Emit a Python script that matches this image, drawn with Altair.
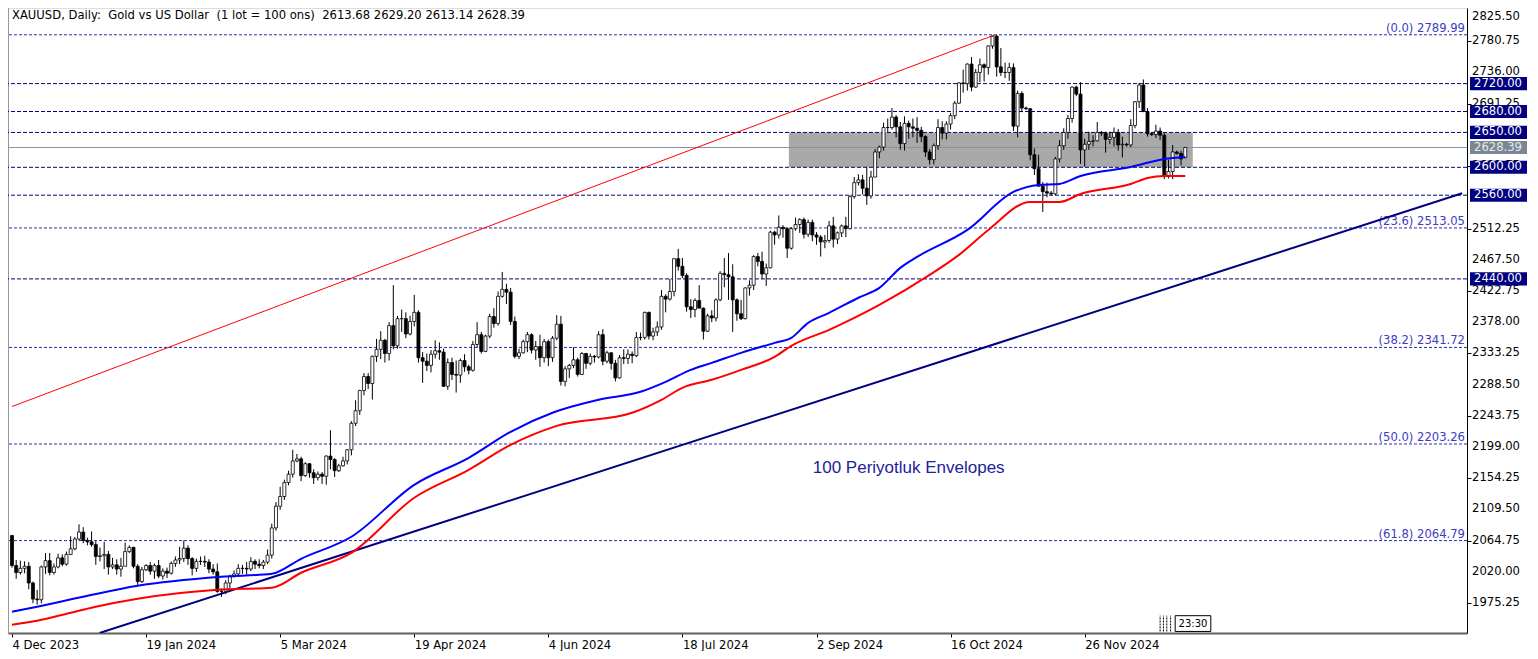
import altair as alt
import pandas as pd

# ---------------- data ----------------
opens = [
    2072, 2029, 2019, 2025, 2028, 2004, 1981, 1980, 2027, 2036,
    2019, 2027, 2040, 2031, 2045, 2053, 2067, 2077, 2065, 2063,
    2059, 2042, 2043, 2045, 2027, 2030, 2024, 2028, 2049, 2055,
    2028, 2006, 2023, 2029, 2021, 2029, 2014, 2021, 2018, 2032,
    2037, 2039, 2054, 2039, 2025, 2035, 2035, 2034, 2024, 2020,
    1992, 1992, 2004, 2013, 2017, 2025, 2025, 2024, 2035, 2031,
    2029, 2034, 2044, 2083, 2114, 2128, 2148, 2160, 2179, 2182,
    2158, 2175, 2162, 2155, 2160, 2157, 2186, 2181, 2165, 2172,
    2179, 2195, 2233, 2251, 2280, 2300, 2290, 2329, 2339, 2352,
    2333, 2373, 2344, 2383, 2383, 2361, 2379, 2392, 2327, 2322,
    2316, 2332, 2337, 2335, 2286, 2320, 2303, 2302, 2323, 2314,
    2309, 2346, 2360, 2336, 2358, 2386, 2376, 2415, 2425, 2421,
    2379, 2329, 2334, 2350, 2360, 2338, 2343, 2327, 2350, 2327,
    2355, 2375, 2293, 2311, 2316, 2324, 2303, 2333, 2319, 2329,
    2328, 2360, 2322, 2334, 2319, 2298, 2327, 2326, 2332, 2330,
    2356, 2356, 2392, 2358, 2364, 2371, 2415, 2411, 2422, 2469,
    2458, 2445, 2400, 2396, 2409, 2398, 2365, 2387, 2384, 2410,
    2448, 2446, 2443, 2410, 2390, 2383, 2427, 2431, 2472, 2465,
    2447, 2456, 2507, 2503, 2514, 2512, 2484, 2512, 2518, 2525,
    2504, 2521, 2503, 2500, 2493, 2495, 2516, 2497, 2506, 2516,
    2512, 2558, 2578, 2582, 2570, 2559, 2586, 2622, 2629, 2657,
    2657, 2672, 2658, 2634, 2663, 2658, 2656, 2653, 2644, 2622,
    2611, 2631, 2657, 2649, 2662, 2674, 2692, 2721, 2720, 2748,
    2715, 2736, 2747, 2743, 2774, 2788, 2744, 2736, 2736, 2743,
    2659, 2706, 2685, 2684, 2618, 2598, 2573, 2565, 2563, 2562,
    2612, 2631, 2650, 2670, 2715, 2705, 2625, 2633, 2637, 2638,
    2650, 2649, 2640, 2643, 2650, 2632, 2633, 2632, 2660, 2694,
    2718, 2680, 2648, 2647, 2652, 2646, 2587, 2594, 2622, 2620,
    2613.68,
]
highs = [
    2073, 2037, 2036, 2035, 2034, 2006, 1994, 2029, 2047, 2047,
    2032, 2046, 2045, 2049, 2071, 2070, 2088, 2084, 2069, 2078,
    2064, 2055, 2063, 2050, 2040, 2038, 2040, 2062, 2058, 2056,
    2031, 2027, 2031, 2034, 2032, 2037, 2025, 2026, 2035, 2042,
    2056, 2065, 2058, 2041, 2039, 2042, 2043, 2038, 2031, 2032,
    1996, 2008, 2016, 2022, 2031, 2030, 2034, 2041, 2038, 2038,
    2037, 2052, 2089, 2120, 2142, 2152, 2165, 2195, 2189, 2185,
    2177, 2176, 2167, 2164, 2163, 2187, 2223, 2183, 2175, 2185,
    2196, 2236, 2266, 2281, 2305, 2305, 2330, 2354, 2365, 2354,
    2378, 2431, 2387, 2396, 2392, 2387, 2417, 2395, 2335, 2333,
    2338, 2352, 2349, 2340, 2326, 2327, 2323, 2326, 2332, 2317,
    2351, 2378, 2364, 2360, 2390, 2398, 2422, 2450, 2433, 2427,
    2386, 2340, 2353, 2364, 2362, 2351, 2360, 2354, 2353, 2358,
    2388, 2387, 2315, 2318, 2342, 2327, 2335, 2334, 2333, 2331,
    2365, 2368, 2337, 2335, 2324, 2331, 2339, 2339, 2336, 2364,
    2363, 2393, 2393, 2370, 2379, 2424, 2418, 2440, 2469, 2483,
    2470, 2448, 2411, 2412, 2431, 2399, 2390, 2395, 2412, 2451,
    2470, 2477, 2461, 2412, 2410, 2428, 2438, 2474, 2477, 2479,
    2462, 2509, 2509, 2531, 2517, 2514, 2514, 2528, 2527, 2528,
    2525, 2525, 2507, 2503, 2503, 2523, 2529, 2508, 2518, 2529,
    2560, 2586, 2590, 2589, 2600, 2595, 2626, 2631, 2664, 2670,
    2685, 2675, 2665, 2673, 2667, 2670, 2672, 2658, 2646, 2626,
    2634, 2669, 2666, 2666, 2678, 2695, 2722, 2740, 2749, 2758,
    2741, 2756, 2749, 2775, 2787, 2789.99, 2771, 2750, 2750, 2749,
    2710, 2709, 2687, 2685, 2627, 2618, 2579, 2578, 2566, 2615,
    2639, 2656, 2675, 2716, 2717, 2722, 2641, 2651, 2646, 2665,
    2652, 2651, 2651, 2657, 2655, 2644, 2635, 2669, 2695, 2721,
    2726, 2685, 2650, 2661, 2657, 2649, 2611, 2632, 2624, 2624,
    2629.20,
]
lows = [
    2026, 2010, 2016, 2018, 1995, 1975, 1973, 1975, 2017, 2015,
    2016, 2025, 2028, 2029, 2044, 2051, 2065, 2061, 2058, 2056,
    2030, 2035, 2024, 2016, 2024, 2016, 2013, 2028, 2047, 2025,
    2001, 2004, 2021, 2016, 2010, 2011, 2009, 2011, 2016, 2027,
    2031, 2034, 2030, 2015, 2020, 2030, 2027, 2018, 2016, 1990,
    1984, 1988, 1996, 2012, 2014, 2017, 2016, 2021, 2024, 2025,
    2024, 2031, 2039, 2079, 2109, 2123, 2144, 2155, 2177, 2150,
    2156, 2155, 2146, 2151, 2146, 2145, 2167, 2156, 2163, 2171,
    2174, 2187, 2229, 2245, 2273, 2282, 2267, 2321, 2325, 2320,
    2323, 2339, 2340, 2364, 2355, 2359, 2372, 2320, 2291, 2308,
    2306, 2326, 2324, 2285, 2281, 2295, 2277, 2291, 2307, 2303,
    2307, 2341, 2333, 2335, 2355, 2370, 2373, 2413, 2404, 2374,
    2326, 2325, 2333, 2335, 2333, 2324, 2314, 2320, 2315, 2321,
    2352, 2287, 2286, 2298, 2312, 2300, 2302, 2311, 2316, 2320,
    2326, 2316, 2319, 2310, 2293, 2297, 2318, 2318, 2319, 2328,
    2352, 2353, 2353, 2352, 2358, 2367, 2392, 2409, 2415, 2452,
    2441, 2393, 2384, 2385, 2404, 2353, 2364, 2378, 2379, 2408,
    2428, 2410, 2364, 2380, 2381, 2382, 2416, 2424, 2458, 2440,
    2430, 2455, 2489, 2498, 2499, 2470, 2482, 2509, 2506, 2498,
    2500, 2494, 2489, 2472, 2484, 2492, 2485, 2490, 2500, 2500,
    2511, 2555, 2574, 2561, 2546, 2555, 2586, 2613, 2624, 2650,
    2654, 2643, 2625, 2624, 2641, 2643, 2635, 2636, 2615, 2604,
    2604, 2625, 2640, 2640, 2654, 2669, 2691, 2707, 2710, 2709,
    2714, 2722, 2723, 2733, 2770, 2730, 2731, 2728, 2724, 2652,
    2643, 2679, 2682, 2610, 2589, 2572, 2536, 2557, 2560, 2560,
    2607, 2625, 2641, 2664, 2702, 2605, 2601, 2625, 2630, 2637,
    2645, 2621, 2633, 2630, 2624, 2614, 2630, 2629, 2656, 2685,
    2679, 2644, 2645, 2642, 2639, 2583, 2584, 2583, 2618, 2603,
    2613.14,
]
closes = [
    2029, 2019, 2025, 2028, 2004, 1981, 1980, 2027, 2036, 2019,
    2027, 2040, 2031, 2045, 2053, 2067, 2077, 2065, 2063, 2059,
    2042, 2043, 2045, 2027, 2030, 2024, 2028, 2049, 2055, 2028,
    2006, 2023, 2029, 2021, 2029, 2014, 2021, 2018, 2032, 2037,
    2039, 2054, 2039, 2025, 2035, 2035, 2034, 2024, 2020, 1992,
    1992, 2004, 2013, 2017, 2025, 2025, 2024, 2035, 2031, 2029,
    2034, 2044, 2083, 2114, 2128, 2148, 2160, 2179, 2182, 2158,
    2175, 2162, 2155, 2160, 2157, 2186, 2181, 2165, 2172, 2179,
    2195, 2233, 2251, 2280, 2300, 2290, 2329, 2339, 2352, 2333,
    2373, 2344, 2383, 2383, 2361, 2379, 2392, 2327, 2322, 2316,
    2332, 2337, 2335, 2286, 2320, 2303, 2302, 2323, 2314, 2309,
    2346, 2360, 2336, 2358, 2386, 2376, 2415, 2425, 2421, 2379,
    2329, 2334, 2350, 2360, 2338, 2343, 2327, 2350, 2327, 2355,
    2375, 2293, 2311, 2316, 2324, 2303, 2333, 2319, 2329, 2328,
    2360, 2322, 2334, 2319, 2298, 2327, 2326, 2332, 2330, 2356,
    2356, 2392, 2358, 2364, 2371, 2415, 2411, 2422, 2469, 2458,
    2445, 2400, 2396, 2409, 2398, 2365, 2387, 2384, 2410, 2448,
    2446, 2443, 2410, 2390, 2383, 2427, 2431, 2472, 2465, 2447,
    2456, 2507, 2503, 2514, 2512, 2484, 2512, 2518, 2525, 2504,
    2521, 2503, 2500, 2493, 2495, 2516, 2497, 2506, 2516, 2512,
    2558, 2578, 2582, 2570, 2559, 2586, 2622, 2629, 2657, 2657,
    2672, 2658, 2634, 2663, 2658, 2656, 2653, 2644, 2622, 2611,
    2631, 2657, 2649, 2662, 2674, 2692, 2721, 2720, 2748, 2715,
    2736, 2747, 2743, 2774, 2788, 2744, 2736, 2736, 2743, 2659,
    2706, 2685, 2684, 2618, 2598, 2573, 2565, 2563, 2562, 2612,
    2631, 2650, 2670, 2715, 2705, 2625, 2633, 2637, 2638, 2650,
    2649, 2640, 2643, 2650, 2632, 2633, 2632, 2660, 2694, 2718,
    2680, 2648, 2647, 2652, 2646, 2587, 2594, 2622, 2620, 2612,
    2628.39,
]

# 100-period envelopes (upper = blue, lower = red), read at bar positions
upper_idx = [0, 6, 17, 30, 50, 62, 69, 81, 96, 109, 119, 129, 140, 150, 156, 162,
             167, 174, 182, 186, 190, 195, 202, 207, 212, 216, 228, 239, 245, 250,
             255, 267, 275, 280]
upper_val = [1962.8, 1969.9, 1984.3, 2000.1, 2012.9, 2017.2, 2038.7, 2070.3, 2144.8,
             2183.5, 2220.7, 2248.0, 2266.6, 2278.1, 2292.4, 2309.6, 2319.6, 2334.0,
             2348.3, 2355.5, 2377.0, 2391.3, 2413.0, 2427.1, 2455.8, 2471.5, 2510.2,
             2564.7, 2574.7, 2576.2, 2587.6, 2600.5, 2612.0, 2614.8]
lower_idx = [0, 6, 14, 20, 30, 49, 62, 69, 81, 96, 109, 119, 130, 148, 155, 160, 167,
             174, 182, 186, 195, 207, 219, 226, 233, 243, 250, 255, 267, 271, 275, 280]
lower_val = [1944.2, 1949.9, 1961.4, 1970.0, 1981.5, 1994.3, 1997.2, 2018.7, 2047.3,
             2126.2, 2166.3, 2202.1, 2229.3, 2248.0, 2266.6, 2283.8, 2295.3, 2309.6,
             2328.2, 2344.0, 2366.9, 2402.7, 2445.7, 2474.4, 2510.2, 2550.3, 2550.3,
             2561.8, 2576.1, 2584.7, 2587.6, 2587.6]

# trend lines (bar index, price)
red_tl_idx = [0.0, 234.6]
red_tl_val = [2257.0, 2789.99]
navy_tl_idx = [20.9, 346.1]
navy_tl_val = [1932.3, 2562.8]

# horizontal levels
levels = [2720.0, 2680.0, 2650.0, 2600.0, 2560.0, 2440.0]
fib_vals = [2789.99, 2513.05, 2341.72, 2203.26, 2064.79]
fib_labels = ["(0.0) 2789.99", "(23.6) 2513.05", "(38.2) 2341.72",
              "(50.0) 2203.26", "(61.8) 2064.79"]
last_price = 2628.39
zone_idx = [185.4, 281.8]
zone_val = [2600.0, 2650.0]

# axes
y_ticks = [1975.25, 2020.00, 2064.75, 2109.50, 2154.25, 2199.00, 2243.75, 2288.50,
           2333.25, 2378.00, 2422.75, 2467.50, 2512.25, 2557.00, 2601.75, 2646.50,
           2691.25, 2736.00, 2780.75, 2825.50]
x_tick_idx = [0, 32, 64, 96, 128, 160, 192, 224, 256]
x_tick_labels = ["4 Dec 2023", "19 Jan 2024", "5 Mar 2024", "19 Apr 2024", "4 Jun 2024",
                 "18 Jul 2024", "2 Sep 2024", "16 Oct 2024", "26 Nov 2024"]

header = ("XAUUSD, Daily:\u00a0 Gold vs US Dollar\u00a0 (1 lot = 100 ons)\u00a0 "
          "2613.68 2629.20 2613.14 2628.39")
note_text = "100 Periyotluk Envelopes"
note_pos = (214.0, 2169.1)
timer_text = "23:30"
timer_box_idx = [277.6, 286.1]
timer_box_val = [1934.5, 1957.1]
timer_marks = [274.0, 274.8, 275.6, 276.5]

# ---------------- chart ----------------
W, H = 1459, 625
FONT = "DejaVu Sans"
FS = 11.6
xs = alt.Scale(domain=[0.24, 346.05], nice=False, zero=False)
ys = alt.Scale(domain=[1932.3, 2828.4], nice=False, zero=False)

n = len(closes)
candles = pd.DataFrame({
    "i": list(range(n)), "o": opens, "h": highs, "l": lows, "c": closes,
})
candles["dir"] = ["up" if c >= o else "down" for o, c in zip(opens, closes)]

label_expr = ("[" + ",".join("'%s'" % s for s in x_tick_labels) + "][indexof(["
              + ",".join(str(v) for v in x_tick_idx) + "], datum.value)]")

x_axis = alt.Axis(values=x_tick_idx, labelExpr=label_expr, title=None, grid=False,
                  orient="bottom", labelAlign="left", labelBaseline="top",
                  labelFont=FONT, labelFontSize=FS, labelColor="black",
                  tickColor="black", tickSize=4, labelPadding=2,
                  domainColor="#606060", domainWidth=2, labelOverlap=False,
                  labelBound=False, labelFlush=False)
y_axis = alt.Axis(values=y_ticks, labels=False, title=None, grid=False,
                  orient="right", tickColor="black", tickSize=4,
                  domainColor="black")


def X(field, **kw):
    return alt.X(field, type="quantitative", scale=xs, **kw)


def Y(field, **kw):
    return alt.Y(field, type="quantitative", scale=ys, **kw)


# left frame line
frame = alt.Chart(pd.DataFrame({"a": [0]})).mark_rule(
    color="#555555", strokeWidth=1).encode(
    x=alt.value(0), y=alt.value(0), y2=alt.value(H))

zone = alt.Chart(pd.DataFrame({"x1": [zone_idx[0]], "x2": [zone_idx[1]],
                               "y1": [zone_val[0]], "y2": [zone_val[1]]})).mark_rect(
    color="#a9a9a9", clip=True).encode(
    x=X("x1:Q", axis=x_axis), x2="x2:Q", y=Y("y1:Q", axis=y_axis), y2="y2:Q")

# y tick labels (right price scale), the top one nudged to stay inside the page
ylab = alt.Chart(pd.DataFrame({"v": y_ticks})).transform_calculate(
    pv="min(datum.v, 2816.0)", t="format(datum.v, '.2f')").mark_text(
    align="left", baseline="middle", font=FONT, fontSize=FS, color="black",
    clip=False).encode(x=alt.value(W + 5), y=Y("pv:Q"), text="t:N")

lvl_rules = alt.Chart(pd.DataFrame({"p": levels})).mark_rule(
    color="#000080", strokeWidth=1, strokeDash=[4, 2]).encode(y=Y("p:Q"))
fib_df = pd.DataFrame({"p": fib_vals, "t": fib_labels})
fib_rules = alt.Chart(fib_df).mark_rule(
    color="#2c2cb0", strokeWidth=1, strokeDash=[3, 2]).encode(y=Y("p:Q"))
fib_text = alt.Chart(fib_df).mark_text(
    align="right", baseline="alphabetic", dy=-3, font=FONT, fontSize=FS,
    color="#3c3cbe").encode(x=alt.value(W - 2), y=Y("p:Q"), text="t:N")

price_line = alt.Chart(pd.DataFrame({"p": [last_price]})).mark_rule(
    color="#8894a0", strokeWidth=1).encode(y=Y("p:Q"))

red_tl = alt.Chart(pd.DataFrame({"i": red_tl_idx, "p": red_tl_val})).mark_line(
    color="#ff0000", strokeWidth=1, clip=True).encode(x=X("i:Q"), y=Y("p:Q"))
navy_tl = alt.Chart(pd.DataFrame({"i": navy_tl_idx, "p": navy_tl_val})).mark_line(
    color="#000080", strokeWidth=2, clip=True).encode(x=X("i:Q"), y=Y("p:Q"))

wicks = alt.Chart(candles).mark_rule(color="black", strokeWidth=1, clip=True).encode(
    x=X("i:Q"), y=Y("l:Q"), y2="h:Q")
bodies = alt.Chart(candles).mark_bar(size=3, stroke="black", strokeWidth=0.8,
                                     clip=True).encode(
    x=X("i:Q"), y=Y("o:Q"), y2="c:Q",
    fill=alt.Fill("dir:N", scale=alt.Scale(domain=["up", "down"],
                                             range=["#ffffff", "#000000"]),
                  legend=None))

upper = alt.Chart(pd.DataFrame({"i": upper_idx, "p": upper_val})).mark_line(
    color="#0000ff", strokeWidth=2, clip=True, interpolate="monotone").encode(
    x=X("i:Q"), y=Y("p:Q"))
lower = alt.Chart(pd.DataFrame({"i": lower_idx, "p": lower_val})).mark_line(
    color="#ff0000", strokeWidth=2, clip=True, interpolate="monotone").encode(
    x=X("i:Q"), y=Y("p:Q"))

# price tags on the right scale
tags = alt.Chart(pd.DataFrame({"p": levels})).transform_calculate(
    lo="datum.p - 9.4", hi="datum.p + 9.4", t="format(datum.p, '.2f')")
tag_box = tags.mark_rect(color="#000080", clip=False).encode(
    x=alt.value(W + 3), x2=alt.value(W + 60), y=Y("lo:Q"), y2="hi:Q")
tag_txt = tags.mark_text(color="white", align="center", baseline="middle",
                         font=FONT, fontSize=FS, clip=False).encode(
    x=alt.value(W + 31), y=Y("p:Q"), text="t:N")
cur = alt.Chart(pd.DataFrame({"p": [last_price]})).transform_calculate(
    lo="datum.p - 9.4", hi="datum.p + 9.4", t="format(datum.p, '.2f')")
cur_box = cur.mark_rect(color="#7a8896", clip=False).encode(
    x=alt.value(W + 3), x2=alt.value(W + 60), y=Y("lo:Q"), y2="hi:Q")
cur_txt = cur.mark_text(color="#e8e8e8", align="center", baseline="middle",
                        font=FONT, fontSize=FS, clip=False).encode(
    x=alt.value(W + 31), y=Y("p:Q"), text="t:N")

head = alt.Chart(pd.DataFrame({"t": [header]})).mark_text(
    align="left", baseline="top", font=FONT, fontSize=FS, color="black").encode(
    x=alt.value(4), y=alt.value(2), text="t:N")

note = alt.Chart(pd.DataFrame({"i": [note_pos[0]], "p": [note_pos[1]],
                               "t": [note_text]})).mark_text(
    align="center", baseline="middle", font="Liberation Sans", fontSize=17,
    color="#22229a").encode(x=X("i:Q"), y=Y("p:Q"), text="t:N")

timer_df = pd.DataFrame({"x1": [timer_box_idx[0]], "x2": [timer_box_idx[1]],
                         "y1": [timer_box_val[0]], "y2": [timer_box_val[1]],
                         "t": [timer_text]})
timer_box = alt.Chart(timer_df).mark_rect(
    fill="white", stroke="black", strokeWidth=1).encode(
    x=X("x1:Q"), x2="x2:Q", y=Y("y1:Q"), y2="y2:Q")
timer_txt = alt.Chart(timer_df).transform_calculate(
    xm="(datum.x1 + datum.x2) / 2", ym="(datum.y1 + datum.y2) / 2").mark_text(
    align="center", baseline="middle", font=FONT, fontSize=10, color="black").encode(
    x=X("xm:Q"), y=Y("ym:Q"), text="t:N")
timer_lines = alt.Chart(pd.DataFrame({"i": timer_marks,
                                      "y1": [timer_box_val[0]] * 4,
                                      "y2": [timer_box_val[1]] * 4})).mark_rule(
    color="black", strokeWidth=1, strokeDash=[2, 1]).encode(
    x=X("i:Q"), y=Y("y1:Q"), y2="y2:Q")

chart = alt.layer(
    zone, frame, ylab, lvl_rules, fib_rules, fib_text, price_line, red_tl, navy_tl,
    wicks, bodies, upper, lower, tag_box, tag_txt, cur_box, cur_txt, head, note,
    timer_lines, timer_box, timer_txt,
).properties(
    width=W, height=H,
    autosize=alt.AutoSizeParams(type="none"),
    padding={"left": 0, "top": 0, "right": 63, "bottom": 18},
).configure_view(stroke=None).configure(background="white")

chart.save("out.html", embed_options={"renderer": "svg", "actions": False})
